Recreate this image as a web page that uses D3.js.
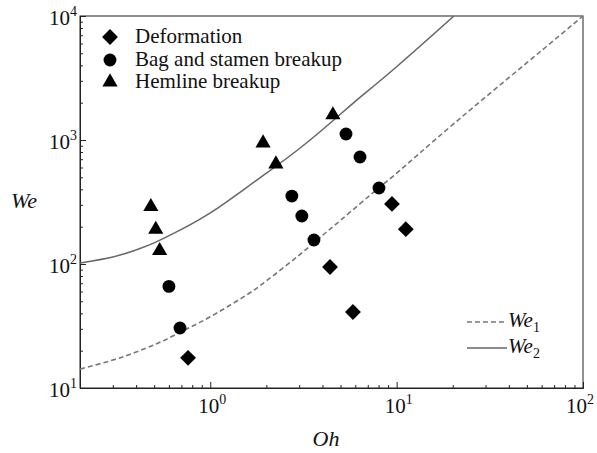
<!DOCTYPE html>
<html>
<head>
<meta charset="utf-8">
<script src="https://cdn.jsdelivr.net/npm/d3@7"></script>
<style>
  html, body { margin: 0; padding: 0; background: #fff; }
  svg { display: block; }
</style>
</head>
<body>
<svg id="chart" width="597" height="453"></svg>
<script>
// ---- data ----
const deformOh = [0.76, 4.39, 5.83, 9.44, 11.2];
const deformWe = [17.5, 94.6, 41, 305, 191];

const bagOh = [0.60, 0.688, 2.74, 3.10, 3.60, 5.35, 6.36, 8.04];
const bagWe = [66, 30.5, 353, 244, 156, 1117, 729, 410];

const hemOh = [0.48, 0.51, 0.535, 1.92, 2.25, 4.55];
const hemWe = [290, 190, 128, 946, 640, 1592];

const we1Oh = [0.2, 0.3, 0.4, 0.5, 0.6, 0.8, 1.0, 1.5, 2, 3, 4, 5, 8, 10, 20, 50, 100];
const we1Val = [14.2, 16.8, 19.5, 22.3, 25.3, 31.5, 37.5, 54, 73, 118, 170, 225, 410, 540, 1330, 4200, 10000];

const we2Oh = [0.2, 0.3, 0.4, 0.5, 0.7, 1.0, 1.5, 2, 3, 4.55, 6, 10, 20.3];
const we2Val = [102, 114, 130, 148, 190, 258, 395, 540, 850, 1430, 2050, 3900, 10000];

const xTickExps = [0, 1, 2];
const yTickExps = [1, 2, 3, 4];
const legendLabels = ["Deformation", "Bag and stamen breakup", "Hemline breakup"];

// ---- layout ----
const FONT = "'Liberation Serif', 'Times New Roman', Times, 'DejaVu Serif', serif";
const L = 80, R = 583, T = 16, B = 388;
const svg = d3.select("#chart").attr("font-family", FONT);
const x = d3.scaleLog().domain([0.2, 100]).range([L, R]);
const y = d3.scaleLog().domain([10, 10000]).range([B, T]);

const axisColor = "#222";

// frame
svg.append("rect").attr("x", L).attr("y", T).attr("width", R - L).attr("height", B - T)
  .attr("fill", "none").attr("stroke", axisColor).attr("stroke-width", 1);

// ticks
const xMinor = [], yMinor = [];
for (let e = -1; e <= 1; e++) for (let m = 2; m <= 9; m++) {
  const v = m * Math.pow(10, e);
  if (v > 0.2 && v < 100) xMinor.push(v);
}
for (let e = 1; e <= 3; e++) for (let m = 2; m <= 9; m++) yMinor.push(m * Math.pow(10, e));

const xAxis = d3.axisBottom(x).tickValues(xTickExps.map(e => Math.pow(10, e)))
  .tickSizeInner(-6).tickSizeOuter(0).tickFormat("");
const xAxisMinor = d3.axisBottom(x).tickValues(xMinor).tickSizeInner(-3).tickSizeOuter(0).tickFormat("");
const yAxis = d3.axisLeft(y).tickValues(yTickExps.map(e => Math.pow(10, e)))
  .tickSizeInner(-6).tickSizeOuter(0).tickFormat("");
const yAxisMinor = d3.axisLeft(y).tickValues(yMinor).tickSizeInner(-3).tickSizeOuter(0).tickFormat("");

[[xAxis, `translate(0,${B})`], [xAxisMinor, `translate(0,${B})`],
 [yAxis, `translate(${L},0)`], [yAxisMinor, `translate(${L},0)`]].forEach(([ax, tr]) => {
  const g = svg.append("g").attr("transform", tr).call(ax);
  g.select(".domain").attr("stroke", axisColor);
  g.selectAll(".tick line").attr("stroke", axisColor);
});

function styleText(t, size) {
  return t.attr("font-family", FONT).attr("font-size", size).attr("fill", "#111");
}

// tick labels with superscripts
xTickExps.forEach((e, i) => {
  const shift = i === xTickExps.length - 1 ? -3 : 2;
  const t = styleText(svg.append("text"), 21).attr("x", x(Math.pow(10, e)) + shift).attr("y", B + 25)
    .attr("text-anchor", "middle");
  t.append("tspan").text("10");
  t.append("tspan").attr("dy", -9).attr("font-size", 14).text(String(e));
});
yTickExps.forEach(e => {
  const t = styleText(svg.append("text"), 21).attr("x", L - 3).attr("y", y(Math.pow(10, e)) + 9)
    .attr("text-anchor", "end");
  t.append("tspan").text("10");
  t.append("tspan").attr("dy", -9).attr("font-size", 14).text(String(e));
});

// axis titles
styleText(svg.append("text"), 22).attr("x", 326).attr("y", 446).attr("text-anchor", "middle")
  .attr("font-style", "italic").text("Oh");
styleText(svg.append("text"), 22).attr("x", 24).attr("y", 208).attr("text-anchor", "middle")
  .attr("font-style", "italic").text("We");

// curves
svg.append("clipPath").attr("id", "clip").append("rect")
  .attr("x", L).attr("y", T).attr("width", R - L).attr("height", B - T);

const line = d3.line().x(d => x(d[0])).y(d => y(d[1])).curve(d3.curveNatural);
const we1 = we1Oh.map((o, i) => [o, we1Val[i]]);
const we2 = we2Oh.map((o, i) => [o, we2Val[i]]);

svg.append("path").attr("clip-path", "url(#clip)").attr("d", line(we1))
  .attr("fill", "none").attr("stroke", "#777").attr("stroke-width", 1.6).attr("stroke-dasharray", "5,3");
svg.append("path").attr("clip-path", "url(#clip)").attr("d", line(we2))
  .attr("fill", "none").attr("stroke", "#666").attr("stroke-width", 1.5);

// markers
const diamondPath = d3.symbol().type(d3.symbolSquare).size(125)();
const circlePath = d3.symbol().type(d3.symbolCircle).size(130)();
const trianglePath = d3.symbol().type(d3.symbolTriangle).size(100)();

function drawMarkers(ohs, wes, path, rot) {
  svg.append("g").selectAll("path").data(ohs.map((o, i) => [o, wes[i]])).join("path")
    .attr("d", path)
    .attr("transform", d => `translate(${x(d[0])},${y(d[1])})` + (rot ? ` rotate(${rot})` : ""))
    .attr("fill", "#000");
}
drawMarkers(deformOh, deformWe, diamondPath, 45);
drawMarkers(bagOh, bagWe, circlePath, 0);
drawMarkers(hemOh, hemWe, trianglePath, 0);

// legend (markers)
const legPaths = [[diamondPath, 45], [circlePath, 0], [trianglePath, 0]];
const legY = [37, 60, 82];
legendLabels.forEach((lab, i) => {
  svg.append("path").attr("d", legPaths[i][0])
    .attr("transform", `translate(110,${legY[i]})` + (legPaths[i][1] ? ` rotate(45)` : ""))
    .attr("fill", "#000");
  styleText(svg.append("text"), 21).attr("x", 135).attr("y", legY[i] + 6).text(lab);
});

// legend (lines)
const lineLeg = [["1", "5,3", "#777", 322], ["2", null, "#666", 348]];
lineLeg.forEach(([sub, dash, col, ly]) => {
  const l = svg.append("line").attr("x1", 467).attr("x2", 507).attr("y1", ly).attr("y2", ly)
    .attr("stroke", col).attr("stroke-width", 1.5);
  if (dash) l.attr("stroke-dasharray", dash);
  const t = styleText(svg.append("text"), 21).attr("x", 508).attr("y", ly + 5).attr("font-style", "italic");
  t.append("tspan").text("We");
  t.append("tspan").attr("dy", 5).attr("font-size", 14).attr("font-style", "normal").text(sub);
});
</script>
</body>
</html>
